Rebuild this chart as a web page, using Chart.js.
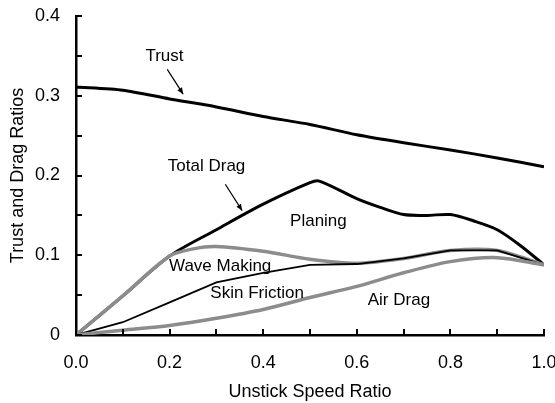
<!DOCTYPE html>
<html>
<head>
<meta charset="utf-8">
<script src="https://cdn.jsdelivr.net/npm/chart.js@4.4.0/dist/chart.umd.min.js"></script>
<style>
  html, body { margin: 0; padding: 0; background: #fff; }
  #wrap { width: 555px; height: 403px; }
</style>
</head>
<body>
<div id="wrap"><canvas id="chart"></canvas></div>
<script>
// values
const speedRatio = [0, 0.1, 0.2, 0.3, 0.4, 0.5, 0.6, 0.7, 0.8, 0.9, 1.0];
const trust = [0.311, 0.307, 0.296, 0.286, 0.274, 0.264, 0.251, 0.241, 0.232, 0.222, 0.211];

const totalDragX = [0, 0.1, 0.2, 0.3, 0.4, 0.5, 0.52, 0.6, 0.65, 0.7, 0.75, 0.8, 0.85, 0.9, 0.95, 1.0];
const totalDrag = [0, 0.049, 0.099, 0.132, 0.164, 0.191, 0.193, 0.171, 0.160, 0.151, 0.150, 0.151, 0.143, 0.132, 0.112, 0.088];

const waveX = [0, 0.1, 0.2, 0.25, 0.3, 0.4, 0.5, 0.6, 0.7, 0.8, 0.9, 1.0];
const waveMaking = [0, 0.049, 0.099, 0.108, 0.111, 0.105, 0.095, 0.090, 0.096, 0.106, 0.106, 0.088];

const skinFriction = [0, 0.016, 0.041, 0.066, 0.078, 0.088, 0.089, 0.096, 0.106, 0.106, 0.088];
const airDrag = [0, 0.006, 0.012, 0.021, 0.032, 0.047, 0.061, 0.078, 0.092, 0.097, 0.088];

const xTickLabels = ['0.0', '0.2', '0.4', '0.6', '0.8', '1.0'];
const yTickLabels = ['0', '0.1', '0.2', '0.3', '0.4'];

const labelNotes = [
    { text: 'Trust', x: 0.189, y: 0.350 },
    { text: 'Total Drag', x: 0.279, y: 0.212 },
    { text: 'Planing', x: 0.518, y: 0.142 },
    { text: 'Wave Making', x: 0.308, y: 0.086 },
    { text: 'Skin Friction', x: 0.387, y: 0.052 },
    { text: 'Air Drag', x: 0.690, y: 0.043 }
];
const arrowNotes = [
    { x1: 0.195, y1: 0.333, x2: 0.229, y2: 0.302 },
    { x1: 0.319, y1: 0.189, x2: 0.355, y2: 0.156 }
];

const pts = (xs, ys) => xs.map((x, i) => ({ x: x, y: ys[i] }));
const GRAY = '#8c8c8c';
const FONT = 'Liberation Sans, Arial, sans-serif';

const innerTicks = {
    id: 'innerTicks',
    afterDraw(chart) {
        const ctx = chart.ctx;
        const xs = chart.scales.x, ys = chart.scales.y;
        const area = chart.chartArea;
        ctx.save();
        ctx.strokeStyle = '#000';
        ctx.lineWidth = 2;
        xs.ticks.forEach(t => {
            const px = Math.round(xs.getPixelForValue(t.value));
            ctx.beginPath();
            ctx.moveTo(px, area.bottom);
            ctx.lineTo(px, area.bottom - 6);
            ctx.stroke();
        });
        ys.ticks.forEach(t => {
            const py = Math.round(ys.getPixelForValue(t.value));
            ctx.beginPath();
            ctx.moveTo(area.left, py);
            ctx.lineTo(area.left + 6, py);
            ctx.stroke();
        });
        ctx.restore();
    }
};

const notes = {
    id: 'notes',
    afterDatasetsDraw(chart) {
        const ctx = chart.ctx;
        const xs = chart.scales.x, ys = chart.scales.y;
        ctx.save();
        ctx.fillStyle = '#000';
        ctx.font = '17px ' + FONT;
        ctx.textAlign = 'center';
        ctx.textBaseline = 'middle';
        labelNotes.forEach(n => {
            ctx.fillText(n.text, xs.getPixelForValue(n.x), ys.getPixelForValue(n.y));
        });
        ctx.strokeStyle = '#000';
        ctx.lineWidth = 1.2;
        arrowNotes.forEach(a => {
            const x1 = xs.getPixelForValue(a.x1), y1 = ys.getPixelForValue(a.y1);
            const x2 = xs.getPixelForValue(a.x2), y2 = ys.getPixelForValue(a.y2);
            const ang = Math.atan2(y2 - y1, x2 - x1);
            ctx.beginPath();
            ctx.moveTo(x1, y1);
            ctx.lineTo(x2, y2);
            ctx.stroke();
            ctx.beginPath();
            ctx.moveTo(x2, y2);
            ctx.lineTo(x2 - 7 * Math.cos(ang - 0.4), y2 - 7 * Math.sin(ang - 0.4));
            ctx.lineTo(x2 - 7 * Math.cos(ang + 0.4), y2 - 7 * Math.sin(ang + 0.4));
            ctx.closePath();
            ctx.fill();
        });
        ctx.restore();
    }
};

const lineSet = (label, data, color, width, tension) => ({
    label: label,
    data: data,
    borderColor: color,
    borderWidth: width,
    pointRadius: 0,
    fill: false,
    tension: tension
});

new Chart(document.getElementById('chart'), {
    type: 'line',
    data: {
        datasets: [
            lineSet('Air Drag', pts(speedRatio, airDrag), GRAY, 3.5, 0.3),
            lineSet('Skin Friction', pts(speedRatio, skinFriction), '#000', 1.8, 0),
            lineSet('Wave Making', pts(waveX, waveMaking), GRAY, 3.5, 0.3),
            lineSet('Total Drag', pts(totalDragX, totalDrag), '#000', 3, 0.3),
            lineSet('Trust', pts(speedRatio, trust), '#000', 3, 0.25)
        ]
    },
    options: {
        responsive: true,
        maintainAspectRatio: false,
        animation: false,
        layout: { padding: { top: 16, right: 11, left: 0, bottom: 0 } },
        plugins: { legend: { display: false }, tooltip: { enabled: false } },
        scales: {
            x: {
                type: 'linear',
                min: 0,
                max: 1,
                afterFit: s => { s.height = 68; s.paddingLeft = 0; s.paddingRight = 0; },
                border: { color: '#000', width: 2.5 },
                grid: { drawOnChartArea: false, drawTicks: false },
                ticks: {
                    stepSize: 0.1,
                    padding: 17,
                    color: '#000',
                    font: { family: FONT, size: 18 },
                    maxRotation: 0,
                    autoSkip: false,
                    callback: (v, i) => (i % 2 === 0 ? xTickLabels[i / 2] : '')
                },
                title: {
                    display: true,
                    text: 'Unstick Speed Ratio',
                    color: '#000',
                    font: { family: FONT, size: 18 },
                    padding: { top: 0, bottom: 0 }
                }
            },
            y: {
                min: 0,
                max: 0.4,
                afterFit: s => { s.width = 76; s.paddingTop = 0; s.paddingBottom = 0; },
                border: { color: '#000', width: 2.5 },
                grid: { drawOnChartArea: false, drawTicks: false },
                ticks: {
                    stepSize: 0.05,
                    padding: 16,
                    color: '#000',
                    font: { family: FONT, size: 18 },
                    autoSkip: false,
                    callback: (v, i) => (i % 2 === 0 ? yTickLabels[i / 2] : '')
                },
                title: {
                    display: true,
                    text: 'Trust and Drag Ratios',
                    color: '#000',
                    font: { family: FONT, size: 18 },
                    padding: { top: 7, bottom: 0 }
                }
            }
        }
    },
    plugins: [innerTicks, notes]
});
</script>
</body>
</html>
